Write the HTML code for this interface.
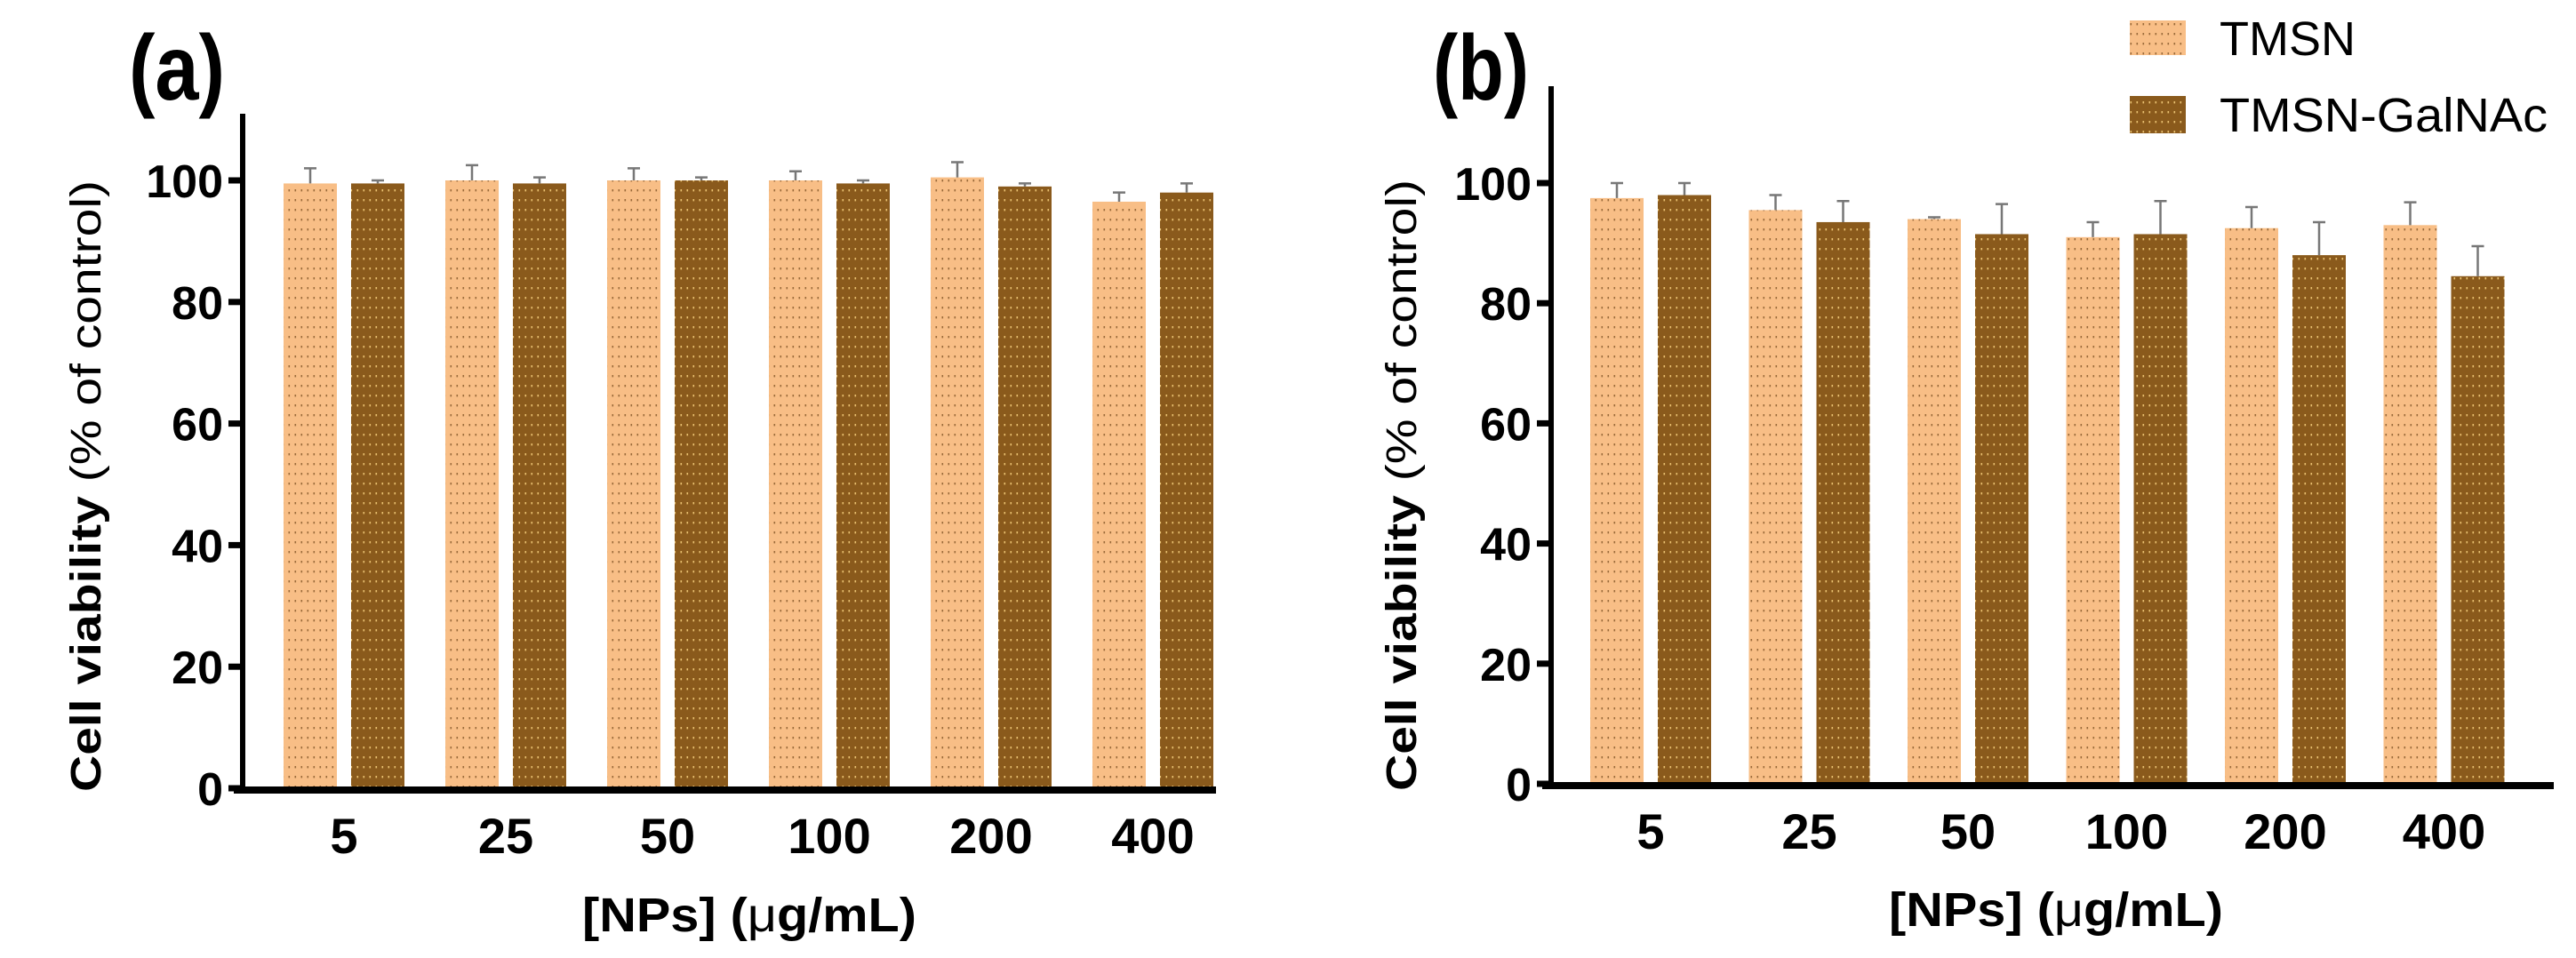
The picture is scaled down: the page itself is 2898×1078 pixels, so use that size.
<!DOCTYPE html>
<html><head><meta charset="utf-8"><style>
html,body{margin:0;padding:0;background:#fff;}
svg{display:block;}
text{font-family:"Liberation Sans",sans-serif;}
</style></head><body>
<svg id="chart" width="2898" height="1078" viewBox="0 0 2898 1078">
<defs>
<pattern id="dotL" width="7" height="11" patternUnits="userSpaceOnUse"><rect width="7" height="11" fill="#F8BE86"/><rect x="2.5" y="4" width="1.6" height="2.4" fill="#9a6a3a"/></pattern>
<pattern id="dotD" width="7" height="11" patternUnits="userSpaceOnUse"><rect width="7" height="11" fill="#8A5A1C"/><rect x="2.5" y="4" width="1.6" height="2.4" fill="#e8c070"/></pattern>
</defs>
<g id="panelA"></g>
<g id="panelB"></g>
<g>
<g><rect x="2396" y="23" width="63" height="39" fill="url(#dotL)"/><text x="2497" y="62" font-size="54" textLength="153" lengthAdjust="spacingAndGlyphs">TMSN</text></g>
<g><rect x="2396" y="108" width="63" height="42" fill="url(#dotD)"/><text x="2497" y="148" font-size="54" textLength="369" lengthAdjust="spacingAndGlyphs">TMSN-GalNAc</text></g>
</g>
</svg>
<script>
const categories=["5","25","50","100","200","400"];
const tmsnA=[99.5,100,100,100,100.5,96.5];
const tmsnAErr=[2.5,2.5,2,1.5,2.5,1.5];
const galA=[99.5,99.5,100,99.5,99,98];
const galAErr=[0.5,1,0.5,0.5,0.5,1.5];
const tmsnB=[97.5,95.5,94,91,92.5,93];
const tmsnBErr=[2.5,2.5,0.3,2.5,3.5,3.8];
const galB=[98,93.5,91.5,91.5,88,84.5];
const galBErr=[2,3.5,5,5.5,5.5,5];
const yTicks=[0,20,40,60,80,100];
const NS="http://www.w3.org/2000/svg";
function mk(tag,attrs,parent){const e=document.createElementNS(NS,tag);for(const k in attrs)e.setAttribute(k,attrs[k]);parent.appendChild(e);return e;}
function draw(g,cfg,t,te,d,de,letter){
 const y=v=>cfg.y0-(cfg.y0-cfg.y100)*v/100;
 const x=i=>cfg.c0+cfg.step*i;
 const bw=cfg.bw,gap=cfg.gap;
 const lab=mk('text',{x:cfg.lx,y:cfg.ly,'font-size':104,'font-weight':'bold',textLength:108,lengthAdjust:'spacingAndGlyphs'},g);
 lab.textContent=letter;
 
 
 categories.forEach((c,i)=>{
  const cx=x(i);
  [[t[i],te[i],'url(#dotL)',cx-gap/2-bw,'tmsn'],[d[i],de[i],'url(#dotD)',cx+gap/2,'galnac']].forEach(s=>{
   const r=mk('rect',{x:s[3],y:y(s[0]),width:bw,height:y(0)-y(s[0]),fill:s[2]},g);
   
   
   const ex=s[3]+bw/2;
   const e=mk('path',{d:`M${ex} ${y(s[0])}V${y(s[0]+s[1])}M${ex-7} ${y(s[0]+s[1])}H${ex+7}`,stroke:'#777',"stroke-width":2.5,fill:'none'},g);
   
   
  });
  const tl=mk('text',{x:cx,y:cfg.tly,'font-size':56,'font-weight':'bold','text-anchor':'middle'},g);
  tl.textContent=c;
  
  
 });
 const ya=mk('path',{d:`M${cfg.ax} ${cfg.top}V${cfg.y0}`,stroke:'#000','stroke-width':6},g);
 
 
 const xa=mk('path',{d:`M${cfg.ax-10} ${cfg.y0+2}H${cfg.xend}`,stroke:'#000','stroke-width':8},g);
 
 
 yTicks.forEach(v=>{
  const tk=mk('path',{d:`M${cfg.ax-16} ${y(v)}H${cfg.ax}`,stroke:'#000','stroke-width':7},g);
  
  
  const tx=cfg.ax-22;
  const t2=mk('text',{x:tx,y:y(v)+19,'font-size':52,'font-weight':'bold','text-anchor':'end'},g);
  t2.textContent=v;
  
  
 });
 const yt=mk('text',{x:0,y:0,'font-size':48,'text-anchor':'middle',textLength:688,lengthAdjust:'spacingAndGlyphs',transform:`translate(${cfg.ytx} ${(cfg.y0+cfg.y100)/2+2}) rotate(-90)`},g);
 yt.innerHTML='<tspan font-weight="bold">Cell viability</tspan> (% of control)';
 
 
 const xt=mk('text',{x:cfg.xtx,y:cfg.xty,'font-size':54,'font-weight':'bold','text-anchor':'middle',textLength:376,lengthAdjust:'spacingAndGlyphs'},g);
 xt.innerHTML='[NPs] (<tspan font-weight="normal">μ</tspan>g/mL)';
 
 
}
draw(document.getElementById('panelA'),{y0:887,y100:203,c0:387,step:182,bw:60,gap:16,ax:273,top:128,xend:1368,tly:960,ytx:113,xtx:843,xty:1048,lx:145,ly:112},tmsnA,tmsnAErr,galA,galAErr,'(a)');
draw(document.getElementById('panelB'),{y0:882,y100:206,c0:1857,step:178.5,bw:60,gap:16,ax:1745,top:97,xend:2873,tly:955,ytx:1593,xtx:2313,xty:1042,lx:1612,ly:112},tmsnB,tmsnBErr,galB,galBErr,'(b)');
</script>
</body></html>
